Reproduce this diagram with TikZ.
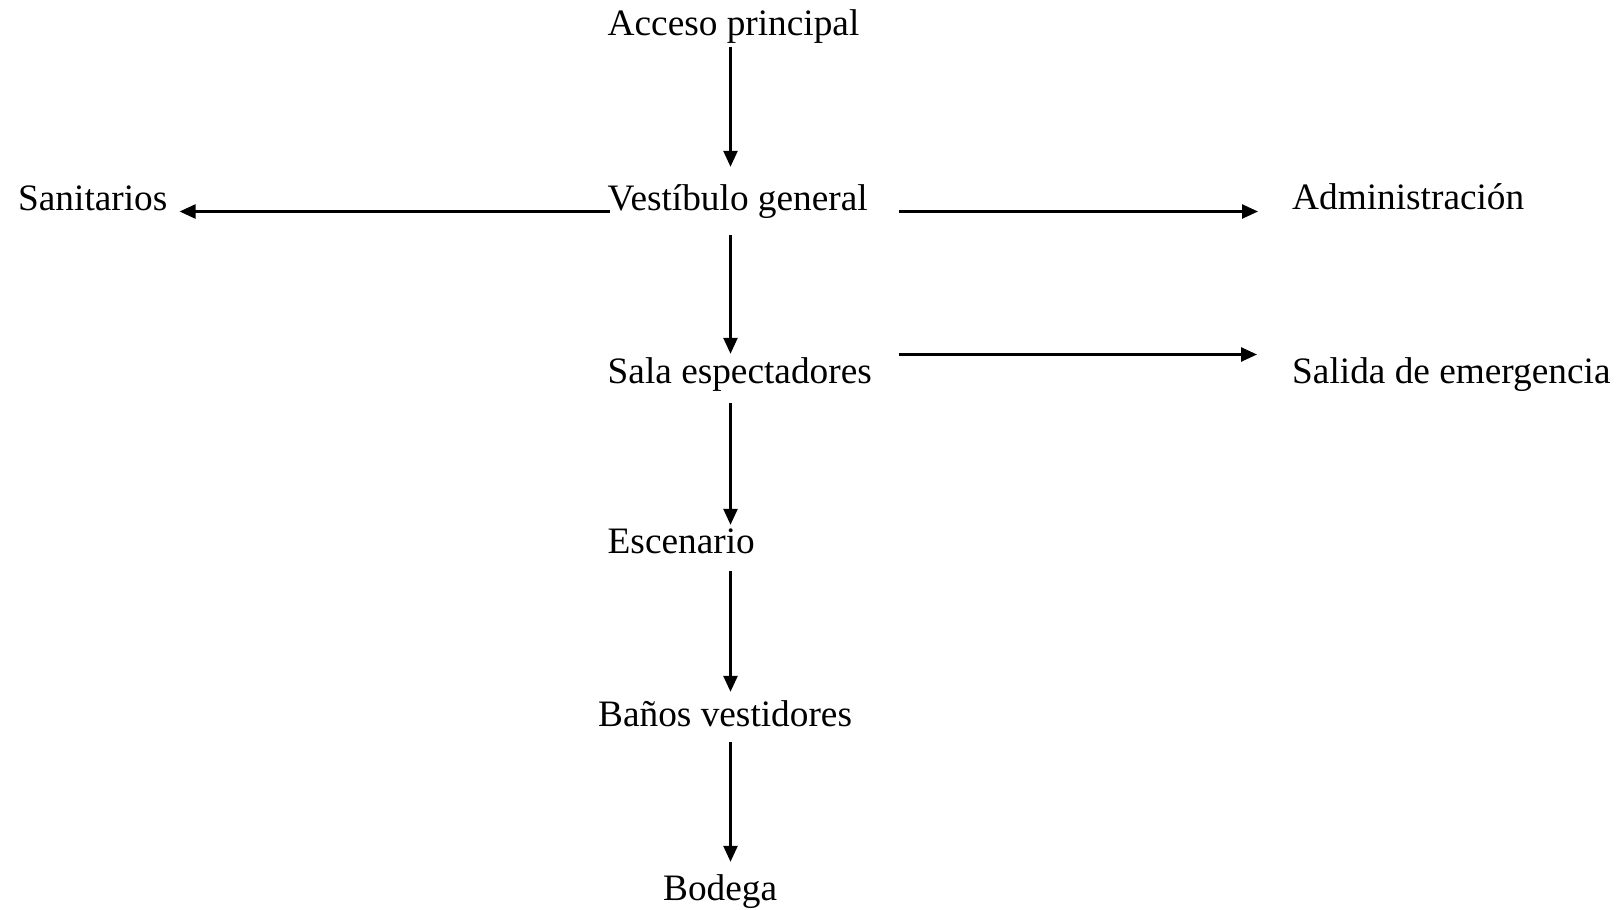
\documentclass[tikz,border=0pt]{standalone}
\usepackage{fontspec}
\setmainfont{Liberation Serif}
\usetikzlibrary{arrows.meta}

\tikzset{
  room/.style={anchor=base west, inner sep=0pt, text height=26pt, text depth=8pt,
               font=\fontsize{37.3}{44}\selectfont},
  flow/.style={line width=2.5pt, -{Triangle[length=16pt,width=14pt]}}
}

\begin{document}
\begin{tikzpicture}[x=1pt,y=-1pt]
  \useasboundingbox (0,0) rectangle (1620,910);

  % rooms (baseline positions)
  \node[room] (acc) at (607.5,35)  {Acceso principal};
  \node[room] (vest) at (607.5,210) {Vestíbulo general};
  \node[room] (san) at (18,210)    {Sanitarios};
  \node[room] (adm) at (1292,209.5) {Administración};
  \node[room] (sala) at (607.5,383) {Sala espectadores};
  \node[room] (sal) at (1292,383)  {Salida de emergencia};
  \node[room] (esc) at (607.5,553) {Escenario};
  \node[room] (ban) at (598,726)   {Baños vestidores};
  \node[room] (bod) at (663,900)   {Bodega};

  % guide lines for the connectors
  \coordinate (spine) at (730.5,0);
  \coordinate (rowA) at (0,211.5);
  \coordinate (rowB) at (0,354.5);

  % main circulation axis
  \draw[flow, shorten <=3.5pt, shorten >=17pt] (acc.south -| spine) -- (vest.north -| spine);
  \draw[flow, shorten <=17pt, shorten >=3pt]   (vest.south -| spine) -- (sala.north -| spine);
  \draw[flow, shorten <=12pt, shorten >=2pt]   (sala.south -| spine) -- (esc.north -| spine);
  \draw[flow, shorten <=10pt, shorten >=8pt]   (esc.south -| spine) -- (ban.north -| spine);
  \draw[flow, shorten <=8pt, shorten >=12pt]   (ban.south -| spine) -- (bod.north -| spine);

  % side branches
  \draw[flow, shorten <=-2.5pt, shorten >=12pt] (vest.west |- rowA) -- (san.east |- rowA);
  \draw[flow, shorten <=31pt, shorten >=34pt] (vest.east |- rowA) -- (adm.west |- rowA);
  \draw[flow, shorten <=27pt, shorten >=35pt] (sala.east |- rowB) -- (sal.west |- rowB);
\end{tikzpicture}
\end{document}
